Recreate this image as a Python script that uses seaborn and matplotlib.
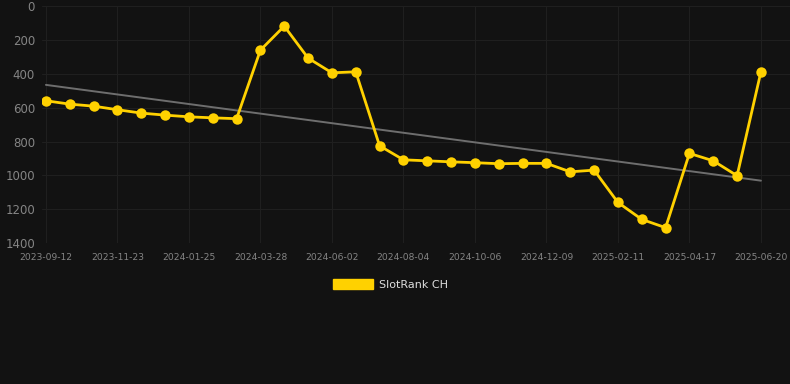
import numpy as np
import pandas as pd
import seaborn as sns
import matplotlib.pyplot as plt
from matplotlib.patches import Patch

# Tick dates (every third point carries a label)
tick_dates = ['2023-09-12', '2023-11-23', '2024-01-25', '2024-03-28', '2024-06-02',
              '2024-08-04', '2024-10-06', '2024-12-09', '2025-02-11', '2025-04-17',
              '2025-06-20']

# Rank values (lower is better, axis inverted)
ranks = [559, 579, 591, 612, 632, 644, 654, 660, 665, 260,
         118, 307, 394, 388, 825, 908, 914, 920, 925, 931,
         929, 929, 979, 969, 1160, 1260, 1309, 870, 914, 1002,
         388]

series_name = 'SlotRank CH'
yticks = [0, 200, 400, 600, 800, 1000, 1200, 1400]

bg = '#121212'
grid_c = '#1f1f1f'
gold = '#FFD100'

df = pd.DataFrame({'idx': np.arange(len(ranks)), 'rank': ranks})

# linear trend through the data
coef = np.polyfit(df['idx'], df['rank'], 1)
df['trend'] = np.polyval(coef, df['idx'])

sns.set_style('dark', {'axes.facecolor': bg, 'figure.facecolor': bg,
                       'grid.color': grid_c, 'axes.edgecolor': bg})
plt.rcParams['font.family'] = ['DejaVu Sans']

fig = plt.figure(figsize=(7.9, 3.84), dpi=100)
ax = fig.add_axes([0.053, 0.367, 0.947, 0.617])

sns.lineplot(data=df, x='idx', y='trend', ax=ax, color='#6e6e6e', linewidth=1.4)
sns.lineplot(data=df, x='idx', y='rank', ax=ax, color=gold, linewidth=2.0,
             marker='o', markersize=7.5, markeredgewidth=0, markeredgecolor=gold)

ax.set_ylim(1400, 0)
ax.set_yticks(yticks)
ax.set_yticklabels([str(v) for v in yticks])
ax.set_xlim(-0.17, 31.22)
ax.set_xticks(np.arange(0, len(ranks), 3))
ax.set_xticklabels(tick_dates)
ax.set_xlabel('')
ax.set_ylabel('')
ax.grid(True, color=grid_c, linewidth=0.8)
ax.tick_params(axis='y', colors='#858585', labelsize=8.5, length=0, pad=5)
ax.tick_params(axis='x', colors=grid_c, labelcolor='#858585', labelsize=6.6,
               length=6, width=0.8, pad=1.5)
for s in ax.spines.values():
    s.set_visible(False)

handles = [Patch(facecolor=gold, edgecolor=gold, label=series_name)]
fig.legend(handles=handles, loc='center', bbox_to_anchor=(0.494, 0.26),
           frameon=False, fontsize=8, labelcolor='#dddddd',
           handlelength=3.6, handleheight=1.1, handletextpad=0.5)

fig.savefig('out.png', dpi=100, facecolor=bg)
